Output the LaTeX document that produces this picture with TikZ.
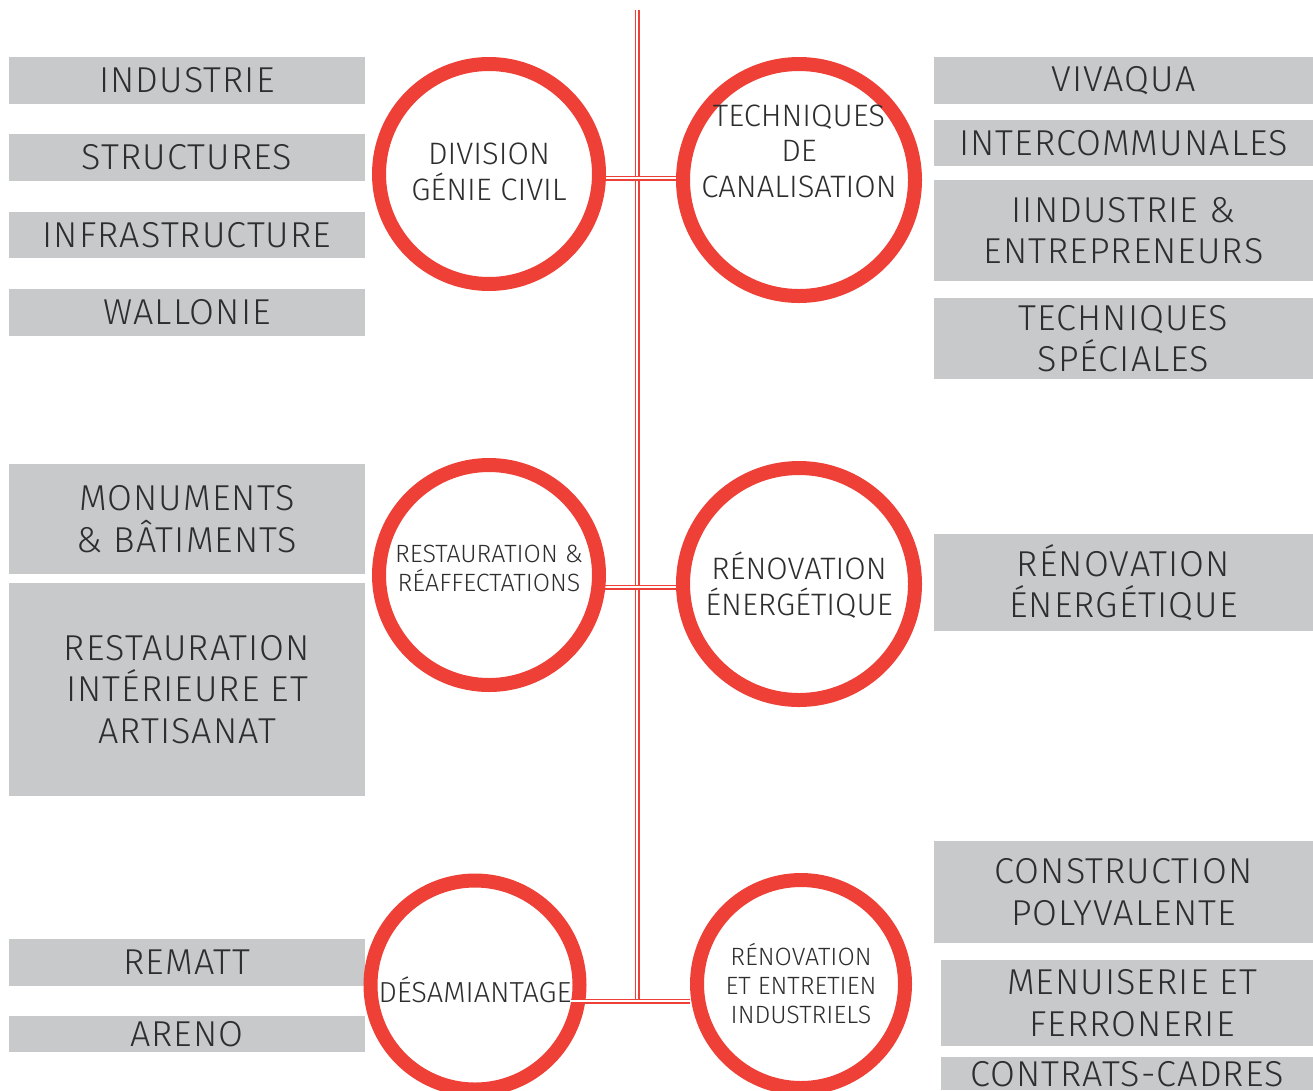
\documentclass[tikz,border=0pt]{standalone}
\usepackage{fontspec}
\setmainfont{Fira Sans}[UprightFont=* Light]
\definecolor{cred}{HTML}{EE4037}
\definecolor{cgray}{HTML}{C8C9CB}
\definecolor{ctext}{HTML}{2E2E2E}
\begin{document}
\begin{tikzpicture}[x=1pt,y=-1pt,
  box/.style={fill=cgray,inner sep=0pt,align=center,text=ctext,font=\fontsize{36}{41.5}\selectfont\addfontfeatures{LetterSpace=3}},
  ring/.style={circle,draw=cred,line width=14pt,fill=white,inner sep=0pt},
  rtext/.style={align=center,text=ctext,inner sep=0pt,font=\fontsize{31}{35.5}\selectfont},
  rtextsmall/.style={rtext,font=\fontsize{25}{29}\selectfont},
  dline/.style={draw=cred,line width=1.7pt,double=white,double distance=1.6pt}]
\useasboundingbox (0,0) rectangle (1313,1090);
% left boxes
\node[box,minimum width=356pt,minimum height=47pt] (l1) at (187,80.5) {INDUSTRIE};
\node[box,minimum width=356pt,minimum height=47pt] (l2) at (187,157.5) {STRUCTURES};
\node[box,minimum width=356pt,minimum height=46pt] (l3) at (187,235) {INFRASTRUCTURE};
\node[box,minimum width=356pt,minimum height=47pt] (l4) at (187,312.5) {WALLONIE};
\node[box,minimum width=356pt,minimum height=110pt] (l5) at (187,519) {MONUMENTS\\\& BÂTIMENTS};
\node[box,minimum width=356pt,minimum height=213pt] (l6) at (187,689.5) {RESTAURATION\\INTÉRIEURE ET\\ARTISANAT};
\node[box,minimum width=356pt,minimum height=47pt] (l7) at (187,962.5) {REMATT};
\node[box,minimum width=356pt,minimum height=36pt] (l8) at (187,1034) {ARENO};
% right boxes
\node[box,minimum width=379pt,minimum height=47pt] (r1) at (1123.5,80.5) {VIVAQUA};
\node[box,minimum width=379pt,minimum height=46pt] (r2) at (1123.5,143) {INTERCOMMUNALES};
\node[box,minimum width=379pt,minimum height=101pt] (r3) at (1123.5,230.5) {IINDUSTRIE \&\\ENTREPRENEURS};
\node[box,minimum width=379pt,minimum height=81pt] (r4) at (1123.5,338.5) {TECHNIQUES\\SPÉCIALES};
\node[box,minimum width=379pt,minimum height=97pt] (r5) at (1123.5,582.5) {RÉNOVATION\\ÉNERGÉTIQUE};
\node[box,minimum width=379pt,minimum height=102pt] (r6) at (1123.5,892) {CONSTRUCTION\\POLYVALENTE};
\node[box,minimum width=372pt,minimum height=86pt] (r7) at (1127,1003) {\hspace*{10pt}MENUISERIE ET\\\hspace*{10pt}FERRONERIE};
\node[box,minimum width=372pt,minimum height=33pt,anchor=north] (r8) at (1127,1057) {CONTRATS-CADRES};
% connector coordinates
\coordinate (vtop) at (637,10);
\coordinate (vbot) at (637,1001);
\coordinate (h1) at (637,178);
\coordinate (h2) at (637,587);
\coordinate (h3) at (637,1001);
\coordinate (gcc) at (489,174);
\coordinate (tcc) at (799,180);
\coordinate (rrc) at (489,575);
\coordinate (rec) at (799,584);
\coordinate (dsc) at (475,985);
\coordinate (ric) at (801,984);
% lines
\draw[dline] (vtop) -- (vbot);
\draw[dline] (gcc |- h1) -- (tcc |- h1);
\draw[dline] (rrc |- h2) -- (rec |- h2);
% circles
\node[ring,minimum size=220pt] (gc) at (gcc) {};
\node[ring,minimum size=232pt] (tc) at (tcc) {};
\node[ring,minimum size=220pt] (rr) at (rrc) {};
\node[ring,minimum size=232pt] (re) at (rec) {};
\node[ring,minimum size=209pt] (ds) at (dsc) {};
\node[ring,minimum size=208pt] (ri) at (ric) {};
\draw[dline] (ds.east |- h3) ++(-16,0) -- (ri.west |- h3);
% circle texts
\node[rtext] (gct) at ([yshift=2pt]gc.center) {DIVISION\\GÉNIE CIVIL};
\node[rtext] (tct) at ([yshift=29pt]tc.center) {TECHNIQUES\\DE\\CANALISATION};
\node[rtextsmall] (rrt) at ([yshift=7pt]rr.center) {RESTAURATION \&\\RÉAFFECTATIONS};
\node[rtext] (ret) at ([yshift=-1pt]re.center) {RÉNOVATION\\ÉNERGÉTIQUE};
\node[rtext,font=\fontsize{29}{35}\selectfont] (dst) at ([yshift=-5pt]ds.center) {DÉSAMIANTAGE};
\node[rtextsmall] (rit) at (ri.center) {RÉNOVATION\\ET ENTRETIEN\\INDUSTRIELS};
\end{tikzpicture}
\end{document}
